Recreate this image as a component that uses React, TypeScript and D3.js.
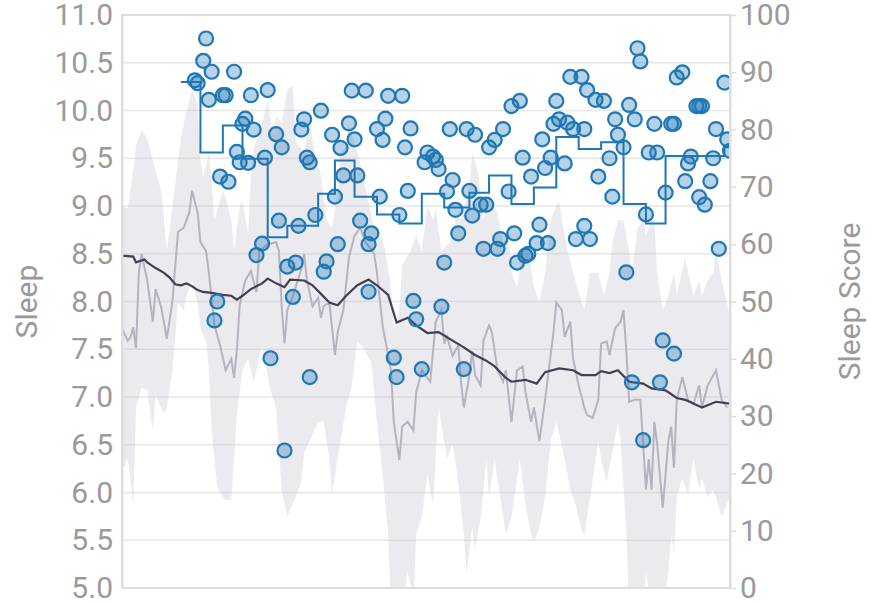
import { useEffect, useRef } from 'react';
import * as d3 from 'd3';

// days since start of the record
const lastDay = 217;

const sleepTicks = [5.0, 5.5, 6.0, 6.5, 7.0, 7.5, 8.0, 8.5, 9.0, 9.5, 10.0, 10.5, 11.0];
const scoreTicks = [0, 10, 20, 30, 40, 50, 60, 70, 80, 90, 100];

// nightly sleep score [day, score]
const dailyScore: [number, number][] = [
  [26, 88.6], [27, 88.1], [29, 92.0], [30, 95.9], [31, 85.2], [32, 90.1], [33, 46.7], [34, 50.0],
  [35, 71.8], [36, 86.0], [37, 86.0], [38, 70.9], [40, 90.1], [41, 76.1], [42, 74.3], [43, 81.0],
  [44, 81.9], [45, 74.2], [46, 86.0], [47, 80.0], [48, 58.1], [50, 60.1], [51, 75.1], [52, 86.9],
  [53, 40.1], [55, 79.2], [56, 64.1], [57, 76.9], [58, 24.0], [59, 56.1], [61, 50.8], [62, 56.8],
  [63, 63.2], [64, 80.0], [65, 81.8], [66, 75.1], [67, 74.3], [67, 36.8], [69, 65.1], [71, 83.3],
  [72, 55.2], [73, 57.0], [75, 79.1], [76, 68.3], [77, 60.0], [78, 76.8], [79, 72.0], [81, 81.1],
  [82, 86.8], [83, 78.3], [84, 72.0], [85, 64.1], [87, 86.8], [88, 51.7], [88, 60.0], [89, 61.9],
  [91, 80.1], [92, 68.3], [93, 78.2], [94, 81.9], [95, 85.9], [97, 40.2], [98, 36.8], [99, 65.1],
  [100, 85.9], [101, 76.9], [102, 69.3], [103, 80.2], [104, 50.1], [105, 46.9], [107, 38.2], [108, 74.3],
  [109, 76.0], [111, 75.3], [112, 74.7], [113, 73.1], [114, 49.1], [115, 56.8], [116, 69.2], [117, 80.1],
  [118, 71.2], [119, 66.0], [120, 61.9], [122, 38.2], [123, 80.1], [124, 69.3], [125, 65.0], [126, 79.1],
  [128, 66.9], [129, 59.2], [130, 66.9], [131, 76.9], [133, 78.2], [134, 59.2], [135, 60.9], [136, 80.1],
  [138, 69.2], [139, 84.1], [140, 61.9], [141, 56.8], [142, 85.0], [143, 75.1], [144, 58.0], [145, 58.3],
  [146, 71.8], [148, 60.2], [149, 63.4], [150, 78.3], [151, 73.3], [152, 60.2], [153, 75.1], [154, 81.0],
  [155, 85.0], [156, 81.8], [158, 74.1], [159, 81.2], [160, 89.2], [161, 80.1], [162, 60.9], [164, 89.2],
  [165, 63.2], [165, 80.1], [166, 86.9], [167, 60.9], [169, 85.2], [170, 71.8], [172, 85.0], [174, 75.0],
  [175, 68.3], [176, 81.8], [177, 79.1], [179, 76.9], [180, 55.1], [181, 84.3], [182, 35.9], [183, 81.8],
  [184, 94.2], [185, 91.9], [186, 25.8], [187, 65.2], [188, 76.0], [190, 81.0], [191, 76.0], [192, 35.9],
  [193, 43.2], [194, 69.0], [196, 81.0], [197, 81.0], [197, 40.9], [198, 89.1], [200, 90.0], [201, 71.0],
  [202, 74.1], [203, 75.3], [205, 84.1], [206, 68.2], [206, 84.1], [207, 84.1], [208, 66.9], [210, 71.0],
  [211, 75.0], [212, 80.1], [213, 59.2], [215, 88.2], [216, 78.3], [217, 76.3],
];

// weekly average score [week start day, score]
const weeklyScore: [number, number][] = [
  [21, 88.3], [28, 76.0], [36, 80.7], [43, 74.9], [52, 61.2], [59, 63.2], [70, 68.8], [76, 74.6],
  [83, 68.3], [91, 65.2], [99, 63.6], [107, 68.8], [115, 66.4], [124, 69.0], [131, 72.0], [139, 67.0],
  [147, 69.9], [155, 78.7], [163, 76.6], [171, 77.8], [179, 67.0], [187, 63.6], [194, 75.4], [215, 76.9],
  [217, 76.9],
];

// short rolling mean of hours slept
const sleepRolling: [number, number][] = [
  [0, 7.72], [2, 7.59], [3, 7.62], [4, 7.73], [5, 7.51], [6, 8.30], [7, 8.50], [9, 8.22], [11, 7.79],
  [12, 8.13], [14, 7.94], [16, 7.61], [18, 8.01], [20, 8.73], [22, 8.77], [24, 8.93], [25, 9.16],
  [27, 8.93], [28, 8.62], [30, 8.53], [31, 8.30], [33, 7.75], [35, 7.54], [37, 7.28], [39, 7.40],
  [40, 7.20], [41, 7.49], [42, 7.96], [44, 8.22], [46, 8.32], [48, 8.10], [49, 8.53], [52, 8.60],
  [55, 8.62], [56, 8.53], [57, 7.95], [58, 7.56], [59, 7.91], [61, 8.06], [64, 8.34], [65, 8.50],
  [66, 8.22], [68, 7.95], [70, 8.04], [71, 7.83], [72, 7.95], [74, 7.99], [76, 7.44], [77, 7.68],
  [79, 7.91], [81, 8.46], [83, 8.69], [85, 8.77], [87, 8.62], [90, 8.50], [91, 8.30], [93, 7.75],
  [96, 7.28], [97, 6.74], [99, 6.34], [100, 6.69], [102, 6.74], [104, 6.65], [105, 7.05], [106, 7.16],
  [107, 7.28], [110, 7.16], [112, 7.79], [114, 7.91], [115, 7.56], [116, 7.63], [118, 7.43], [120, 7.54],
  [121, 7.16], [122, 6.89], [124, 7.23], [125, 7.48], [126, 7.23], [128, 7.12], [129, 7.59], [131, 7.75],
  [132, 7.68], [134, 7.28], [136, 7.16], [137, 7.28], [139, 6.74], [141, 7.28], [143, 7.32], [144, 7.05],
  [146, 6.74], [147, 6.89], [149, 6.54], [151, 6.97], [153, 7.44], [154, 7.68], [155, 7.99], [157, 7.91],
  [158, 7.63], [160, 7.79], [161, 7.40], [163, 7.12], [165, 6.89], [166, 6.81], [168, 6.78], [170, 6.97],
  [171, 7.56], [173, 7.58], [174, 7.44], [176, 7.72], [178, 7.79], [179, 7.91], [180, 7.48], [181, 6.95],
  [183, 6.97], [185, 6.97], [186, 6.51], [187, 6.03], [188, 6.35], [189, 6.03], [190, 6.74], [191, 6.51],
  [193, 5.84], [194, 6.19], [195, 6.54], [196, 6.69], [197, 6.26], [198, 6.97], [200, 7.21], [202, 6.97],
  [204, 6.93], [206, 7.12], [207, 6.89], [209, 7.12], [212, 7.28], [214, 6.97], [216, 6.89],
];

// long-run trend of hours slept
const sleepTrend: [number, number][] = [
  [0, 8.48], [4, 8.47], [5, 8.41], [8, 8.44], [9, 8.41], [12, 8.35], [15, 8.30], [17, 8.25], [19, 8.18],
  [21, 8.17], [23, 8.19], [25, 8.16], [27, 8.12], [29, 8.10], [32, 8.09], [36, 8.07], [39, 8.06],
  [41, 8.02], [43, 8.06], [46, 8.13], [50, 8.19], [52, 8.24], [55, 8.19], [58, 8.15], [60, 8.23],
  [65, 8.22], [68, 8.17], [71, 8.08], [74, 7.99], [77, 7.96], [80, 8.06], [84, 8.17], [88, 8.23],
  [91, 8.17], [95, 8.07], [98, 7.78], [102, 7.83], [105, 7.75], [109, 7.67], [113, 7.68], [118, 7.59],
  [122, 7.52], [126, 7.44], [130, 7.38], [133, 7.32], [137, 7.20], [139, 7.16], [144, 7.18], [148, 7.14],
  [151, 7.26], [156, 7.30], [161, 7.28], [164, 7.23], [169, 7.23], [171, 7.27], [174, 7.25], [177, 7.28],
  [181, 7.16], [186, 7.14], [189, 7.09], [194, 7.07], [198, 6.99], [201, 6.97], [207, 6.89], [212, 6.95],
  [217, 6.93],
];

// spread around the rolling mean
const sleepBandHigh: [number, number][] = [
  [0, 9.00], [2, 8.97], [4, 9.36], [5, 9.63], [7, 9.79], [9, 9.71], [12, 9.36], [14, 9.16], [15, 8.85],
  [16, 8.53], [18, 9.00], [20, 9.47], [21, 9.71], [23, 9.99], [25, 10.21], [27, 10.06], [28, 9.47],
  [29, 9.29], [31, 9.56], [32, 9.24], [33, 8.85], [36, 9.16], [37, 9.09], [39, 8.85], [40, 8.53],
  [42, 9.00], [43, 9.05], [45, 8.69], [46, 9.29], [47, 9.59], [50, 9.87], [52, 10.10], [54, 9.75],
  [55, 9.94], [57, 9.87], [59, 10.22], [61, 10.26], [62, 9.67], [65, 9.56], [67, 9.87], [69, 9.52],
  [71, 9.32], [73, 8.85], [75, 8.77], [77, 9.16], [78, 9.56], [80, 9.63], [81, 9.87], [82, 9.75],
  [84, 9.56], [86, 9.32], [87, 9.16], [90, 8.77], [92, 8.73], [94, 8.53], [96, 8.15], [97, 7.72],
  [99, 7.91], [100, 8.38], [103, 8.53], [105, 8.69], [107, 8.53], [109, 9.00], [111, 8.85], [112, 8.97],
  [114, 8.53], [117, 8.62], [120, 8.93], [121, 8.85], [124, 9.20], [125, 9.56], [127, 9.36], [129, 8.85],
  [131, 9.09], [134, 8.93], [136, 8.62], [138, 8.69], [139, 8.30], [141, 8.15], [143, 8.53], [145, 8.53],
  [147, 8.15], [149, 7.99], [151, 8.30], [153, 8.85], [155, 9.00], [156, 9.05], [157, 8.85], [159, 8.53],
  [161, 8.30], [164, 7.99], [165, 7.91], [167, 8.30], [170, 8.30], [172, 8.06], [174, 8.30], [175, 8.62],
  [177, 8.85], [179, 8.85], [181, 8.53], [182, 8.30], [184, 8.77], [186, 8.85], [187, 8.69], [189, 8.85],
  [190, 8.85], [191, 8.30], [193, 7.91], [195, 8.06], [197, 8.30], [198, 8.06], [201, 8.46], [202, 8.30],
  [204, 8.06], [206, 8.22], [207, 8.06], [209, 8.22], [211, 8.30], [212, 8.53], [214, 8.22], [217, 7.85],
];

const sleepBandLow: [number, number][] = [
  [0, 6.23], [2, 6.35], [3, 6.17], [4, 5.87], [5, 6.89], [7, 7.10], [9, 7.07], [11, 6.65], [12, 7.02],
  [15, 6.83], [16, 6.89], [18, 7.28], [20, 7.99], [22, 7.91], [23, 8.06], [25, 8.22], [27, 7.99],
  [28, 7.72], [30, 7.59], [31, 7.28], [32, 6.65], [34, 6.06], [36, 5.95], [37, 5.92], [39, 5.92],
  [40, 6.35], [41, 6.82], [43, 7.28], [45, 7.40], [47, 7.16], [50, 7.54], [53, 7.07], [55, 6.89],
  [57, 6.03], [59, 5.75], [62, 5.95], [64, 6.11], [65, 6.42], [67, 6.54], [70, 6.74], [72, 6.74],
  [74, 6.35], [75, 5.99], [78, 6.54], [80, 6.89], [82, 7.12], [84, 7.59], [86, 7.52], [89, 7.36],
  [91, 6.74], [93, 6.19], [95, 5.56], [96, 4.8], [100, 4.8], [102, 5.17], [104, 4.9], [105, 5.56],
  [107, 5.75], [109, 6.19], [111, 5.88], [113, 6.89], [115, 6.54], [116, 6.35], [118, 6.51], [120, 6.11],
  [122, 5.56], [123, 5.17], [125, 5.64], [126, 5.41], [128, 5.72], [130, 6.35], [131, 5.95], [133, 6.35],
  [135, 5.95], [137, 5.56], [139, 5.75], [140, 5.95], [142, 6.35], [144, 5.88], [146, 5.56], [147, 5.48],
  [149, 5.64], [151, 5.95], [153, 6.54], [155, 6.74], [156, 6.62], [158, 6.35], [160, 6.03], [162, 5.87],
  [164, 5.61], [165, 5.55], [168, 6.13], [170, 6.54], [171, 6.35], [173, 6.11], [175, 6.42], [177, 6.74],
  [178, 6.54], [180, 5.56], [181, 4.8], [186, 4.8], [187, 5.17], [189, 4.8], [193, 4.8], [195, 5.17],
  [196, 5.56], [197, 5.37], [198, 5.95], [200, 6.15], [202, 5.99], [204, 6.35], [206, 6.03], [207, 6.15],
  [209, 5.95], [211, 6.03], [212, 5.95], [214, 5.75], [217, 5.95],
];

export default function App() {
  const svgRef = useRef<SVGSVGElement>(null);

  useEffect(() => {
    if (!svgRef.current) return;
    const svg = d3.select(svgRef.current);
    svg.selectAll('*').remove();

    const left = 122, right = 730, top = 15, bottom = 588;
    const font = 'Roboto, "Noto Sans", sans-serif';

    const x = d3.scaleLinear().domain([0, lastDay]).range([left, right]);
    const y = d3.scaleLinear().domain([5, 11]).range([bottom, top]);
    const y2 = d3.scaleLinear().domain([0, 100]).range([bottom, top]);

    svg.append('defs')
      .append('clipPath')
      .attr('id', 'plot-clip')
      .append('rect')
      .attr('x', left)
      .attr('y', top)
      .attr('width', right - left)
      .attr('height', bottom - top);

    // horizontal grid on the sleep ticks
    svg.append('g')
      .selectAll('line')
      .data(sleepTicks)
      .join('line')
      .attr('x1', left)
      .attr('x2', right)
      .attr('y1', (d) => y(d))
      .attr('y2', (d) => y(d))
      .attr('stroke', '#e6e6e6')
      .attr('stroke-width', 1.5);

    const plot = svg.append('g').attr('clip-path', 'url(#plot-clip)');

    const sleepLine = d3.line<[number, number]>()
      .x((d) => x(d[0]))
      .y((d) => y(d[1]));

    plot.append('path')
      .attr('d', sleepLine([...sleepBandHigh, ...sleepBandLow.slice().reverse()]) + 'Z')
      .attr('fill', 'rgba(196,196,210,0.36)')
      .attr('stroke', 'none');

    plot.append('path')
      .attr('d', sleepLine(sleepRolling))
      .attr('fill', 'none')
      .attr('stroke', '#b7b2c0')
      .attr('stroke-width', 2);

    plot.append('path')
      .attr('d', sleepLine(sleepTrend))
      .attr('fill', 'none')
      .attr('stroke', '#463d52')
      .attr('stroke-width', 2.2);

    const stepLine = d3.line<[number, number]>()
      .x((d) => x(d[0]))
      .y((d) => y2(d[1]))
      .curve(d3.curveStepAfter);

    plot.append('path')
      .attr('d', stepLine(weeklyScore))
      .attr('fill', 'none')
      .attr('stroke', '#1f77b4')
      .attr('stroke-width', 2);

    plot.append('g')
      .selectAll('circle')
      .data(dailyScore)
      .join('circle')
      .attr('cx', (d) => x(d[0]))
      .attr('cy', (d) => y2(d[1]))
      .attr('r', 7)
      .attr('fill', 'rgba(31,119,180,0.33)')
      .attr('stroke', '#1f77b4')
      .attr('stroke-width', 2.2);

    // frame
    svg.append('rect')
      .attr('x', left)
      .attr('y', top)
      .attr('width', right - left)
      .attr('height', bottom - top)
      .attr('fill', 'none')
      .attr('stroke', '#dddddd')
      .attr('stroke-width', 2);

    const leftAxis = svg.append('g')
      .attr('transform', `translate(${left},0)`)
      .call(d3.axisLeft(y)
        .tickValues(sleepTicks)
        .tickSize(0)
        .tickSizeOuter(0)
        .tickPadding(9)
        .tickFormat((d) => (d as number).toFixed(1))
      );
    leftAxis.select('.domain').attr('stroke', '#dddddd').attr('stroke-width', 2);
    leftAxis.selectAll('text')
      .attr('fill', '#9a9a9a')
      .style('font-size', '30px')
      .style('font-family', font);

    const rightAxis = svg.append('g')
      .attr('transform', `translate(${right},0)`)
      .call(d3.axisRight(y2)
        .tickValues(scoreTicks)
        .tickSize(6)
        .tickSizeOuter(0)
        .tickPadding(4)
      );
    rightAxis.select('.domain').attr('stroke', '#dddddd').attr('stroke-width', 2);
    rightAxis.selectAll('line').attr('stroke', '#dddddd').attr('stroke-width', 1.5);
    rightAxis.selectAll('text')
      .attr('fill', '#9a9a9a')
      .style('font-size', '30px')
      .style('font-family', font);

    svg.append('text')
      .attr('transform', `translate(37,${(top + bottom) / 2}) rotate(-90)`)
      .attr('text-anchor', 'middle')
      .attr('fill', '#9a9a9a')
      .style('font-size', '30px')
      .style('font-family', font)
      .text('Sleep');

    svg.append('text')
      .attr('transform', `translate(860,${(top + bottom) / 2}) rotate(-90)`)
      .attr('text-anchor', 'middle')
      .attr('fill', '#9a9a9a')
      .style('font-size', '30px')
      .style('font-family', font)
      .text('Sleep Score');
  }, []);

  return (
    <div style={{ position: 'absolute', left: 0, top: 0 }}>
      <svg ref={svgRef} width={871} height={605} style={{ display: 'block', background: '#fff' }} />
    </div>
  );
}
